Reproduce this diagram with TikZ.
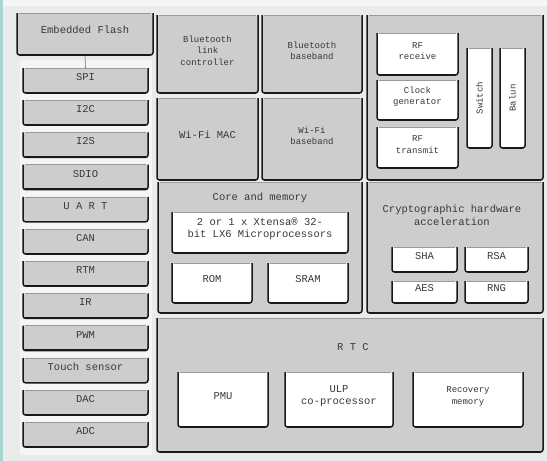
\documentclass[tikz,border=0pt]{standalone}
\usepackage{fontspec}
\setmainfont{Liberation Mono}
\usetikzlibrary{fit}
\definecolor{bgc}{HTML}{EBEBEB}
\definecolor{boxg}{HTML}{CDCDCD}
\definecolor{edgeteal}{HTML}{A6D6CE}
\newcommand\ubord[1]{%
  \draw[ub] (#1.north west) -- (#1.south west) -- (#1.south east) -- (#1.north east);
  \draw[black!90, line width=1.2pt] ([xshift=2pt,yshift=0.6pt]#1.south west) -- ([xshift=-2pt,yshift=0.6pt]#1.south east);
  \draw[black!40, line width=0.5pt] ([xshift=2pt]#1.north west) -- ([xshift=-2pt]#1.north east);}
\begin{document}
\begin{tikzpicture}[x=1pt,y=-1pt,
  gbox/.style={fill=boxg, rounded corners=2.5pt, inner sep=0pt, outer sep=0pt,
    font=\fontsize{10.5}{12.5}\selectfont, text=black!78, align=center},
  wbox/.style={gbox, fill=white},
  ub/.style={draw=black!90, line width=1.5pt, rounded corners=2.5pt},
  sm/.style={font=\fontsize{9}{11.5}\selectfont},
  lbl/.style={font=\fontsize{10.5}{13}\selectfont, text=black!78, align=center, inner sep=0pt}]
\fill[bgc] (0,0) rectangle (547,461);
\useasboundingbox (0,0) rectangle (547,461);
\fill[white!55!bgc] (0,0) rectangle (547,6);
\fill[edgeteal] (0,0) rectangle (2.5,461);
\fill[white!50!bgc] (20,60) rectangle (152,455);
% left column
\node[gbox, fit={(17,13)(153,55)}] (flash) {Embedded Flash};
\node[gbox, fit={(23,68)(148,93)}] (spi) {SPI};
\node[gbox, fit={(23,100.2)(148,125.2)}] (i2c) {I2C};
\node[gbox, fit={(23,132.4)(148,157.4)}] (i2s) {I2S};
\node[gbox, fit={(23,164.6)(148,189.6)}] (sdio) {SDIO};
\node[gbox, fit={(23,196.8)(148,221.8)}] (uart) {U A R T};
\node[gbox, fit={(23,229)(148,254)}] (can) {CAN};
\node[gbox, fit={(23,261.2)(148,286.2)}] (rtm) {RTM};
\node[gbox, fit={(23,293.4)(148,318.4)}] (ir) {IR};
\node[gbox, fit={(23,325.6)(148,350.6)}] (pwm) {PWM};
\node[gbox, fit={(23,357.8)(148,382.8)}] (touch) {Touch sensor};
\node[gbox, fit={(23,390)(148,415)}] (dac) {DAC};
\node[gbox, fit={(23,422.2)(148,447.2)}] (adc) {ADC};
\draw[black!55, line width=0.6pt] (flash.south) -- (spi.north);
% bluetooth / wifi
\node[gbox, sm, fit={(157,15)(258,93)}] (btlc) {Bluetooth\\link\\controller};
\node[gbox, sm, fit={(262,15)(362,93)}] (btbb) {Bluetooth\\baseband};
\node[gbox, fit={(157,98)(258,180)}] (wmac) {Wi-Fi MAC};
\node[gbox, sm, fit={(262,98)(362,180)}] (wbb) {Wi-Fi\\baseband};
% RF
\node[gbox, fit={(367,15)(543,180)}] (rf) {};
\node[wbox, sm, fit={(377,33)(458,75)}] (rfrx) {RF\\receive};
\node[wbox, sm, fit={(377,80)(458,120)}] (clk) {Clock\\generator};
\node[wbox, sm, fit={(377,127)(458,168)}] (rftx) {RF\\transmit};
\node[wbox, fit={(467,48)(492,148)}] (sw) {};
\node[wbox, fit={(500,48)(525,148)}] (balun) {};
\node[lbl, sm, rotate=90] (swt) at (sw.center) {Switch};
\node[lbl, sm, rotate=90] (balt) at (balun.center) {Balun};
% core and memory
\node[gbox, fit={(158,182)(362,313)}] (core) {};
\node[lbl] (corel) at (260,198) {Core and memory};
\node[wbox, fit={(172,212)(348,253)}] (cpu) {2 or 1 x Xtensa® 32-\\bit LX6 Microprocessors};
\node[wbox, fit={(172,263)(252,303)}] (rom) {ROM};
\node[wbox, fit={(268,263)(348,303)}] (sram) {SRAM};
% crypto
\node[gbox, fit={(367,182)(543,313)}] (crypto) {};
\node[lbl] (cryptol) at (452,215) {Cryptographic hardware\\acceleration};
\node[wbox, fit={(392,247)(457,272)}] (sha) {SHA};
\node[wbox, fit={(465,247)(528,272)}] (rsa) {RSA};
\node[wbox, fit={(392,281)(457,303)}] (aes) {AES};
\node[wbox, fit={(465,281)(528,303)}] (rng) {RNG};
% RTC
\node[gbox, fit={(157,318)(543,452)}] (rtc) {};
\node[lbl] (rtcl) at (353,347) {R T C};
\node[wbox, fit={(178,372)(268,427)}] (pmu) {PMU};
\node[wbox, fit={(285,372)(393,427)}] (ulp) {ULP\\co-processor};
\node[wbox, sm, fit={(413,372)(523,427)}] (rec) {Recovery\\memory};
\foreach \n in {flash,spi,i2c,i2s,sdio,uart,can,rtm,ir,pwm,touch,dac,adc,
  btlc,btbb,wmac,wbb,rf,rfrx,clk,rftx,sw,balun,core,cpu,rom,sram,
  crypto,sha,rsa,aes,rng,rtc,pmu,ulp,rec} {\ubord{\n}}
\end{tikzpicture}
\end{document}
